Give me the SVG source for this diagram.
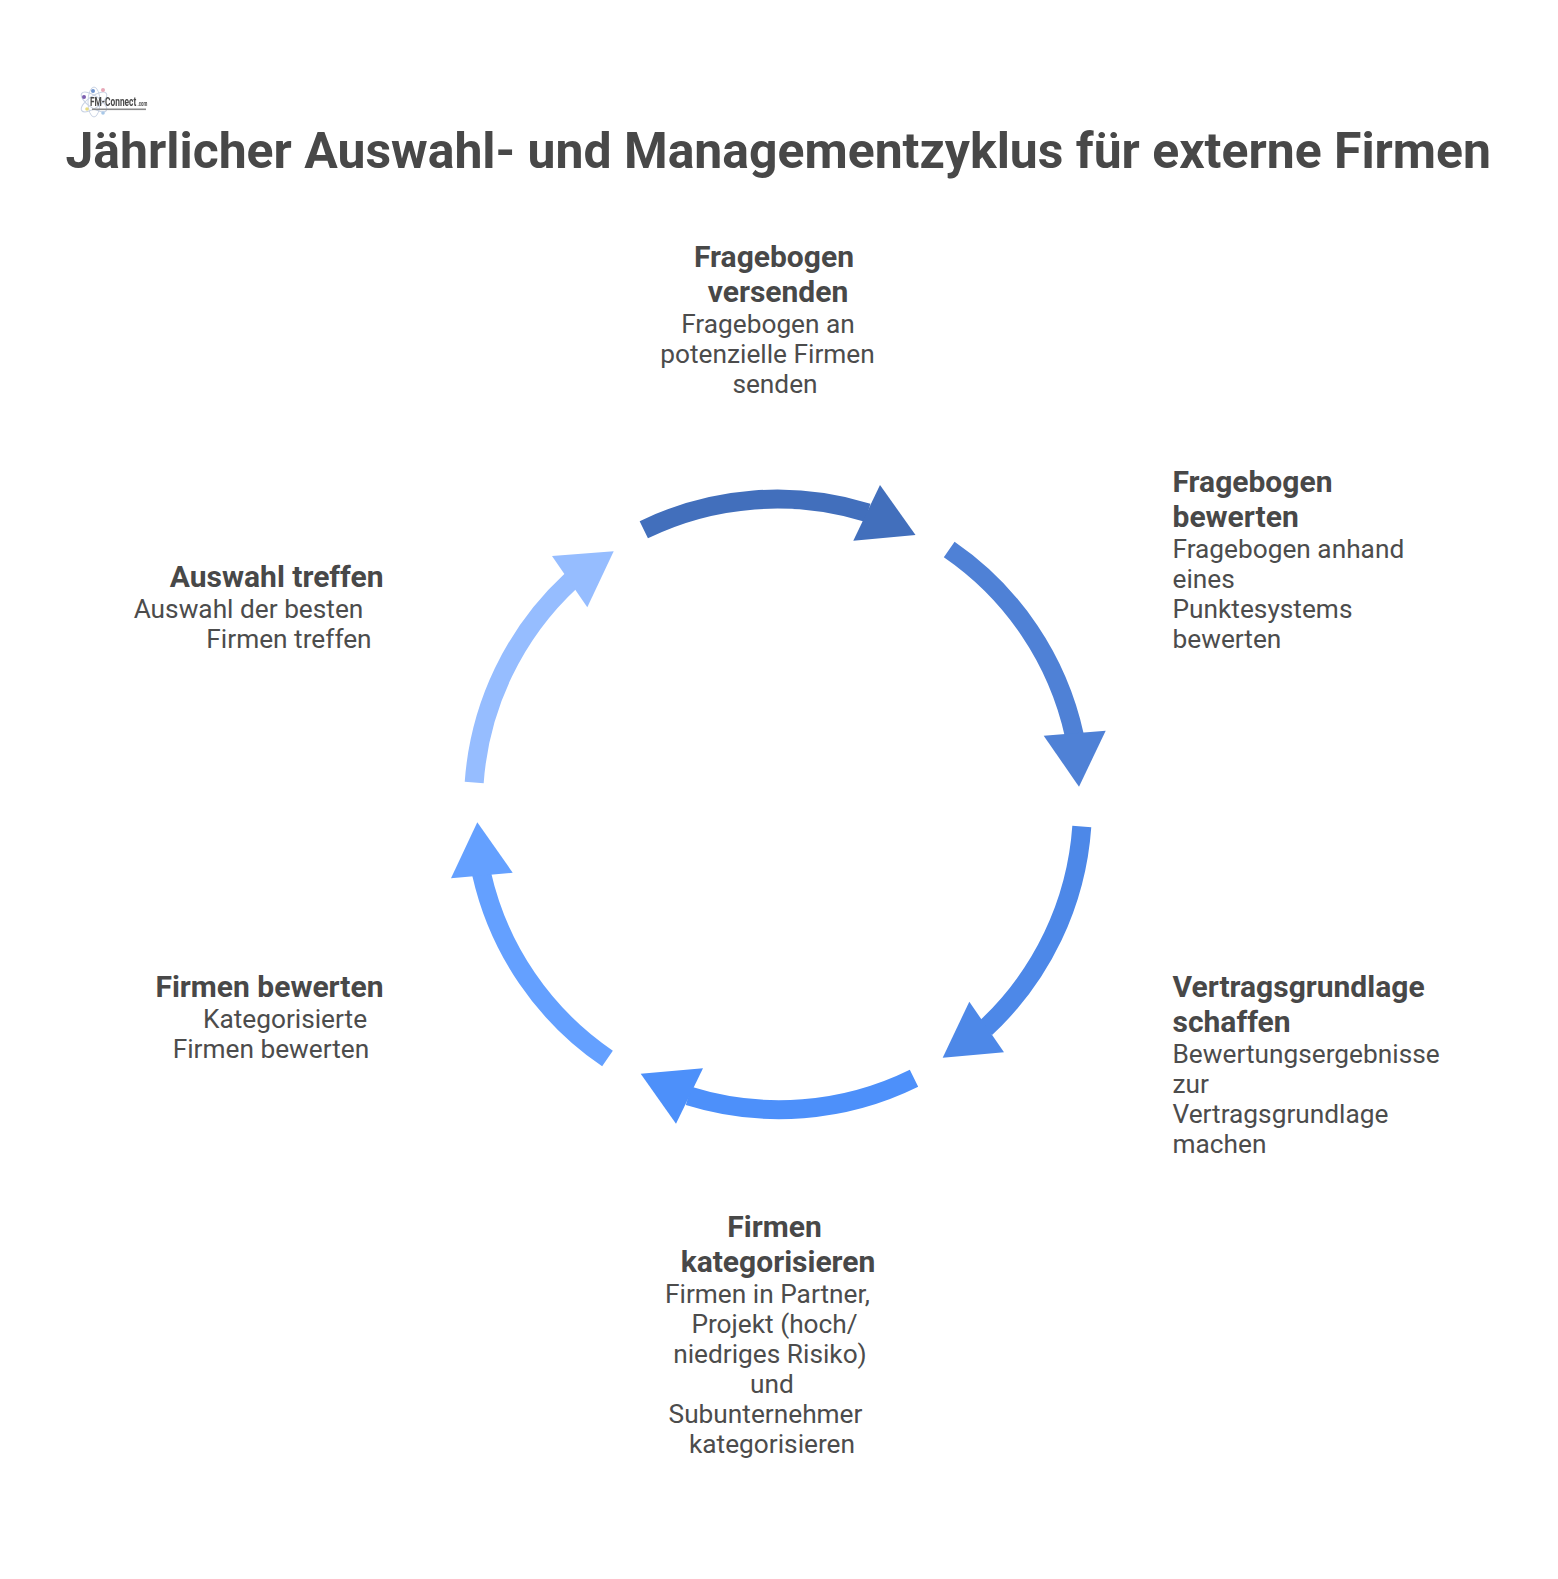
<svg xmlns="http://www.w3.org/2000/svg" width="1558" height="1579" viewBox="0 0 1558 1579">
<style>
text{font-family:Roboto,"Liberation Sans",sans-serif;fill:#484848}
.t{font-size:49.9px;font-weight:700}
.h{font-size:30px;font-weight:700}
.b{font-size:26.25px;font-weight:400;fill:#4c4c4c}
.c{text-anchor:middle}
.arc{fill:none;stroke-width:19}
.orbit{fill:none;stroke:#c9d3e4;stroke-width:1}
</style>
<defs><filter id="soft" x="-10%" y="-10%" width="120%" height="120%"><feGaussianBlur stdDeviation="0.45"/></filter></defs>
<rect width="1558" height="1579" fill="#fff"/>
<g id="logo" filter="url(#soft)">
<ellipse class="orbit" cx="94" cy="102" rx="15" ry="6" transform="rotate(35 94 102)"/>
<ellipse class="orbit" cx="94" cy="102" rx="15" ry="6" transform="rotate(-35 94 102)"/>
<ellipse class="orbit" cx="94" cy="102" rx="15" ry="6" transform="rotate(90 94 102)"/>
<circle cx="84" cy="97" r="2" fill="#7d5fb0"/>
<circle cx="93" cy="91" r="2" fill="#6f95d0"/>
<circle cx="103" cy="90" r="2" fill="#e8a8b8"/>
<circle cx="87" cy="109" r="1.8" fill="#e8dc80"/>
<circle cx="103" cy="113" r="1.8" fill="#a8c8e8"/>
<text transform="translate(90 105.5) scale(.64 1)" style="font-size:13px;font-weight:700">FM-Connect</text>
<text transform="translate(137.5 105.5) scale(.55 1)" style="font-size:8px;font-weight:700">.com</text>
<rect x="92" y="108.5" width="54" height="1.6" fill="#8a8a8a"/>
</g>
<text class="t" x="65.5" y="168">Jährlicher Auswahl- und Managementzyklus für externe Firmen</text>
<g id="connectors">
<g id="arrow1"><path class="arc" stroke="#426fbc" d="M643.8 529.7A305.6 305.6 0 0 1 867.6 512.8"/><polygon fill="#426fbc" points="880,485 915.5,535 853.3,540.7"/></g>
<g id="arrow2"><path class="arc" stroke="#4f81d6" d="M949.2 549.5A304.75 304.75 0 0 1 1074.3 735.2"/><polygon fill="#4f81d6" points="1105.7,730.7 1079,786.7 1043.7,735.7"/></g>
<g id="arrow3"><path class="arc" stroke="#4d88e8" d="M1081.8 826.5A304.75 304.75 0 0 1 985.6 1028.1"/><polygon fill="#4d88e8" points="1004,1052.3 942.7,1057.7 969.3,1001.7"/></g>
<g id="arrow4"><path class="arc" stroke="#4d90fa" d="M914 1078.3A304.75 304.75 0 0 1 688.6 1095.9"/><polygon fill="#4d90fa" points="676,1123.7 640.7,1073.7 703,1068.3"/></g>
<g id="arrow5"><path class="arc" stroke="#64a0ff" d="M607.5 1058.5A304.75 304.75 0 0 1 481.6 873.8"/><polygon fill="#64a0ff" points="451,878.3 477.3,822.3 512.7,872.7"/></g>
<g id="arrow6"><path class="arc" stroke="#96bdff" d="M474.2 782.5A304.75 304.75 0 0 1 571 580.7"/><polygon fill="#96bdff" points="552,556 613.7,551.3 587.3,607.3"/></g>
</g>
<g id="n1"><text class="h c" x="774" y="267">Fragebogen</text><text class="h c" x="778" y="302">versenden</text><text class="b c" x="768" y="333">Fragebogen an</text><text class="b c" x="767.5" y="363">potenzielle Firmen</text><text class="b c" x="775" y="393">senden</text></g>
<g id="n2"><text class="h" x="1172.5" y="492">Fragebogen</text><text class="h" x="1172.5" y="527">bewerten</text><text class="b" x="1172.5" y="558">Fragebogen anhand</text><text class="b" x="1172.5" y="588">eines</text><text class="b" x="1172.5" y="618">Punktesystems</text><text class="b" x="1172.5" y="648">bewerten</text></g>
<g id="n3"><text class="h" x="1172.5" y="997">Vertragsgrundlage</text><text class="h" x="1172.5" y="1032">schaffen</text><text class="b" x="1172.5" y="1063">Bewertungsergebnisse</text><text class="b" x="1172.5" y="1093">zur</text><text class="b" x="1172.5" y="1123">Vertragsgrundlage</text><text class="b" x="1172.5" y="1153">machen</text></g>
<g id="n4"><text class="h c" x="774.5" y="1237">Firmen</text><text class="h c" x="778" y="1272">kategorisieren</text><text class="b c" x="767.5" y="1303">Firmen in Partner,</text><text class="b c" x="774.5" y="1333">Projekt (hoch/</text><text class="b c" x="770" y="1363">niedriges Risiko)</text><text class="b c" x="772" y="1393">und</text><text class="b c" x="765.5" y="1423">Subunternehmer</text><text class="b c" x="772" y="1453">kategorisieren</text></g>
<g id="n5"><text class="h" x="383.5" y="997" text-anchor="end">Firmen bewerten</text><text class="b c" x="285" y="1028">Kategorisierte</text><text class="b c" x="271" y="1058">Firmen bewerten</text></g>
<g id="n6"><text class="h" x="383.5" y="587" text-anchor="end">Auswahl treffen</text><text class="b c" x="248.5" y="618">Auswahl der besten</text><text class="b c" x="289" y="648">Firmen treffen</text></g>
</svg>
